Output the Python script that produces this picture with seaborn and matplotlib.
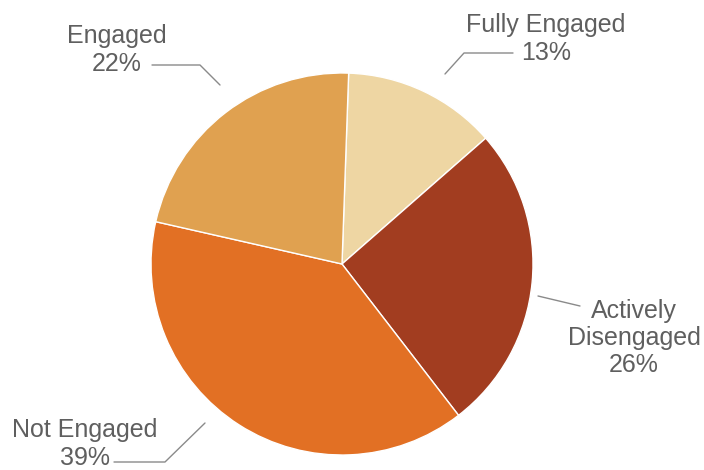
import matplotlib
matplotlib.use("Agg")
import matplotlib.pyplot as plt
import seaborn as sns
import numpy as np

categories = ["Fully Engaged", "Actively\nDisengaged", "Not Engaged", "Engaged"]
shares = [13, 26, 39, 22]
slice_colors = ["#EED6A3", "#A23D20", "#E27024", "#E0A150"]

sns.set_theme(style="white")
plt.rcParams["font.family"] = ["Liberation Sans", "DejaVu Sans"]
palette = sns.color_palette(slice_colors)

W, H = 704, 470
fig = plt.figure(figsize=(W / 100, H / 100), dpi=100)
ax = fig.add_axes([0, 0, 1, 1])

cx, cy, r = 342, H - 264, 191
ax.pie(shares, colors=palette, startangle=88, counterclock=False,
       center=(cx, cy), radius=r, frame=True,
       wedgeprops=dict(edgecolor="white", linewidth=1))
ax.set_xlim(0, W)
ax.set_ylim(0, H)
ax.set_aspect("equal")
ax.axis("off")

# label text positions (centre of text block) and leader-line paths, in pixel space
label_pos = [(546, 39), (634, 338), (85, 444), (117, 50)]
leaders = [
    [(445, 74), (464, 53), (513, 53)],
    [(538, 296), (580, 306)],
    [(205, 423), (165, 462), (114, 462)],
    [(220, 85), (200, 65), (152, 65)],
]
for name, val, (tx, ty), path in zip(categories, shares, label_pos, leaders):
    ax.text(tx, H - ty, f"{name}\n{val}%", ha="center", va="center",
            fontsize=18, color="#5f5f5f", linespacing=1.18)
    xs = [p[0] for p in path]
    ys = [H - p[1] for p in path]
    ax.plot(xs, ys, color="#8a8a8a", linewidth=1)

fig.savefig("out.png", dpi=100, facecolor="white")
